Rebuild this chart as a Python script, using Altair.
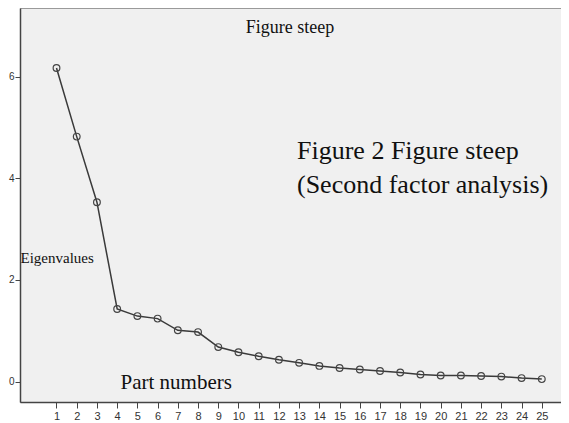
import altair as alt
import pandas as pd

components = [1, 2, 3, 4, 5, 6, 7, 8, 9, 10, 11, 12, 13, 14, 15, 16, 17, 18, 19, 20, 21, 22, 23, 24, 25]
eigenvalues = [6.17, 4.82, 3.53, 1.43, 1.29, 1.24, 1.01, 0.975, 0.68, 0.58, 0.50, 0.43, 0.37,
               0.31, 0.27, 0.24, 0.21, 0.18, 0.14, 0.12, 0.12, 0.11, 0.10, 0.07, 0.05]
y_ticks = [0, 2, 4, 6]
chart_title = "Figure steep"
annotation = ["Figure 2 Figure steep", "(Second factor analysis)"]

df = pd.DataFrame({"component": components, "eigenvalue": eigenvalues})

xs = alt.Scale(domain=[-0.805, 25.95], nice=False, zero=False)
ys = alt.Scale(domain=[-0.40, 7.35], nice=False, zero=False)

serif = "Liberation Serif"

x_enc = alt.X(
    "component:Q", scale=xs,
    axis=alt.Axis(values=components, title="Part numbers", titleX=100, titleY=-14,
                  titleAlign="left", titleBaseline="alphabetic", titleFont=serif,
                  titleFontSize=21, titleFontWeight="normal", titleColor="#111",
                  labelFontSize=11, tickSize=6, labelPadding=2, labelFlush=False),
)
y_enc = alt.Y(
    "eigenvalue:Q", scale=ys,
    axis=alt.Axis(values=y_ticks, title="Eigenvalues", titleAngle=0, titleX=0, titleY=254,
                  titleAlign="left", titleBaseline="alphabetic", titleFont=serif,
                  titleFontSize=15, titleFontWeight="normal", titleColor="#111",
                  labelFontSize=10, tickSize=5, labelPadding=1),
)

base = alt.Chart(df)
line = base.mark_line(color="#3a3a3a", strokeWidth=1.5).encode(x=x_enc, y=y_enc)
points = base.mark_point(shape="circle", filled=False, size=45, color="#444",
                         strokeWidth=1.2, opacity=1).encode(x=x_enc, y=y_enc)

one = pd.DataFrame({"k": [0]})
title_txt = alt.Chart(one).mark_text(
    text=chart_title, align="center", baseline="alphabetic", font=serif,
    fontSize=18, color="#111").encode(x=alt.value(270), y=alt.value(25))
annot = alt.Chart(one).mark_text(
    text=annotation, align="left", baseline="alphabetic", font=serif,
    fontSize=26, lineHeight=34, color="#111").encode(x=alt.value(277), y=alt.value(151))

chart = alt.layer(line, points, title_txt, annot).properties(
    width=541, height=394,
    autosize=alt.AutoSizeParams(type="none"),
    padding={"left": 12, "top": 0, "right": 0, "bottom": 20},
).configure_view(
    fill="#f0f0f0", stroke="#9a9a9a", strokeWidth=1
).configure_axis(
    grid=False, domainColor="#444", domainWidth=1.5, tickColor="#444",
    labelFont="Liberation Sans", labelColor="#333"
)

chart.save("out.html", embed_options={"renderer": "svg", "actions": False})
